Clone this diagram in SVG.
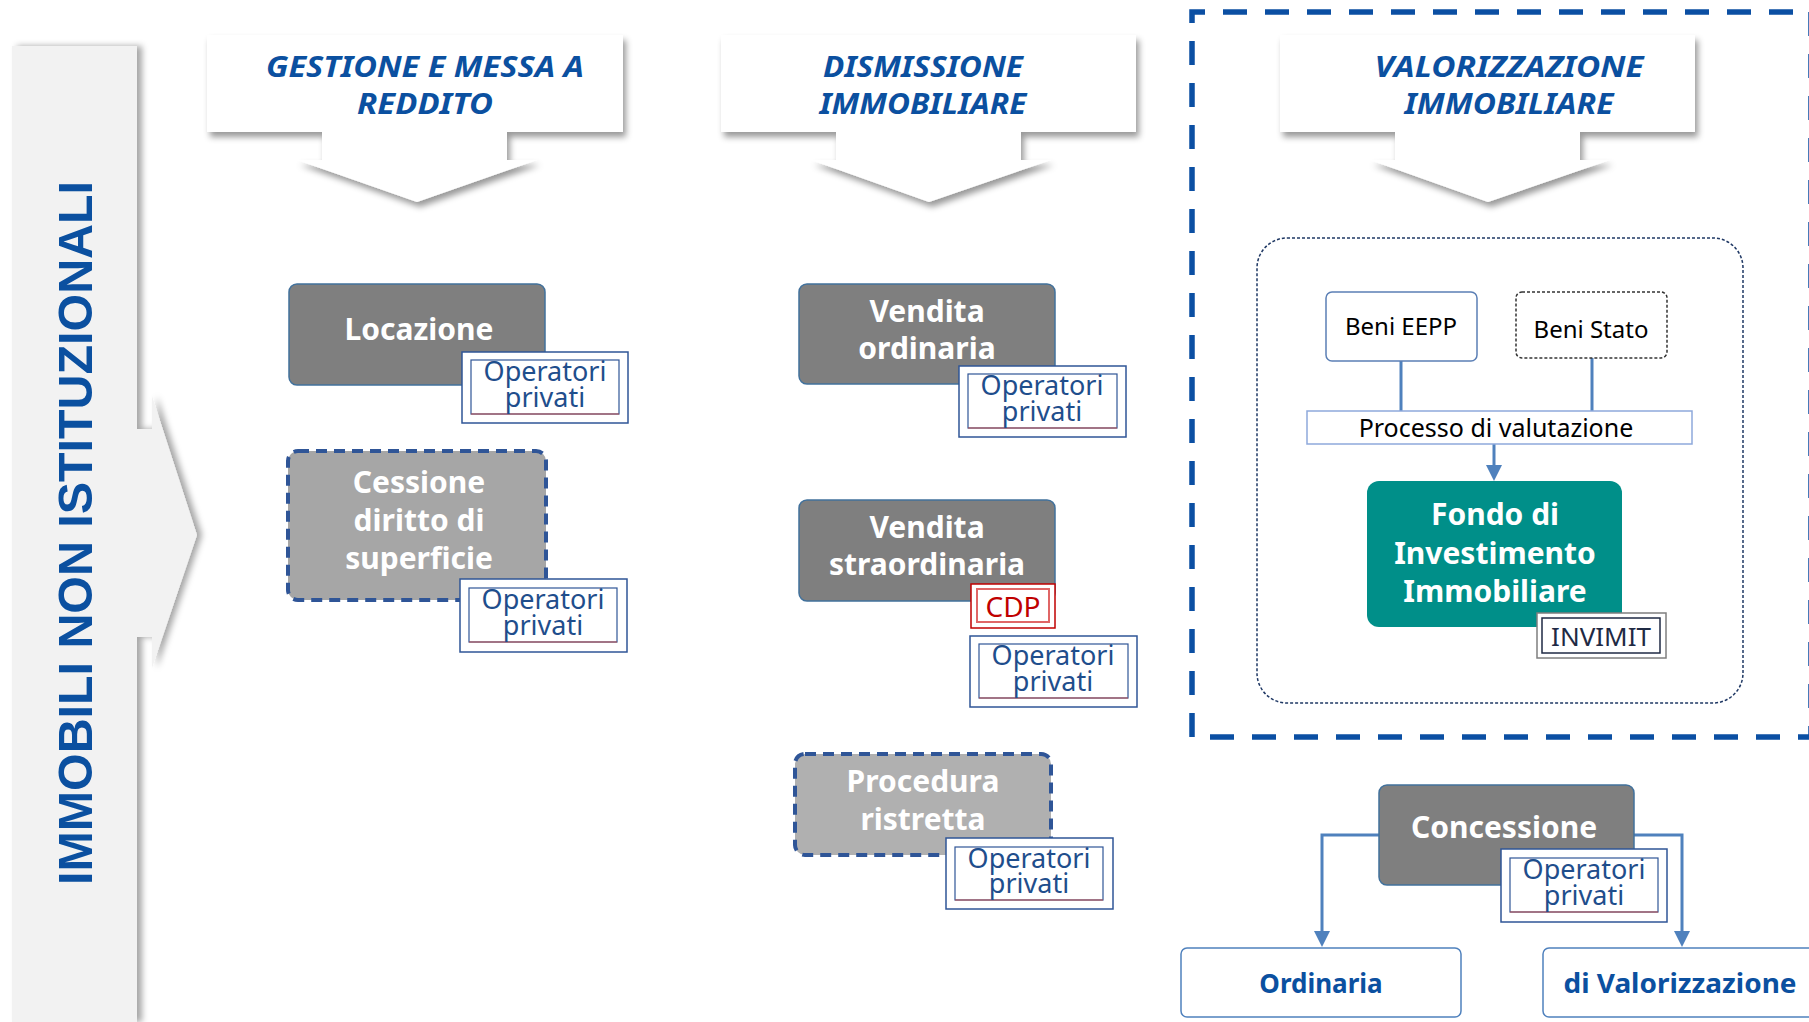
<svg xmlns="http://www.w3.org/2000/svg" width="1809" height="1022" viewBox="0 0 1809 1022">
<style>
text{font-family:"Noto Sans","Open Sans","Liberation Sans",sans-serif;}
.hdr{fill:#0B50A0;font-size:29px;font-weight:bold;font-style:italic;text-anchor:middle;}
.callout{fill:#FFFFFF;filter:url(#shd);}
.nodeDark{fill:#7F7F7F;stroke:#41719C;stroke-width:1.5;}
.nodeDash{stroke:#2F5597;stroke-width:4;stroke-dasharray:11 7;}
.wt{fill:#FFFFFF;font-size:30px;font-weight:bold;text-anchor:middle;}
.opO{fill:#FFFFFF;stroke:#2F5597;stroke-width:1.5;}
.opI{fill:#FFFFFF;stroke:#2F5597;stroke-width:1.2;}
.opR{stroke:#C0504D;stroke-width:1.2;}
.opT{fill:#1F4E8C;font-size:27px;text-anchor:middle;}
.con{fill:none;stroke:#4F81BD;stroke-width:3;}
.bt{fill:#0B50A0;font-size:26px;font-weight:bold;text-anchor:middle;}
</style>
<defs>
<filter id="shd" x="-10%" y="-10%" width="130%" height="140%">
<feDropShadow dx="3" dy="5" stdDeviation="3" flood-color="#000000" flood-opacity="0.4"/>
</filter>
<filter id="shdR" x="-10%" y="-5%" width="130%" height="110%">
<feDropShadow dx="5" dy="0" stdDeviation="3" flood-color="#000000" flood-opacity="0.35"/>
</filter>
<marker id="arr" viewBox="0 0 16 16" refX="12" refY="8" markerWidth="16" markerHeight="16" markerUnits="userSpaceOnUse" orient="auto">
<path d="M0,0 L16,8 L0,16 Z" fill="#4F81BD"/>
</marker>
</defs>
<rect width="1809" height="1022" fill="#FFFFFF"/>

<g id="immobili-non-istituzionali">
<path d="M12,46 H137 V429 H152 V396 L197,535 L152,668 V637 H137 V1022 H12 Z" fill="#F2F2F2" filter="url(#shdR)"/>
<text transform="translate(92,533) rotate(-90)" text-anchor="middle" font-size="48" font-weight="bold" fill="#0B50A0" style="font-family:'Liberation Sans',Arial,sans-serif" textLength="704" lengthAdjust="spacingAndGlyphs">IMMOBILI NON ISTITUZIONALI</text>
</g>

<g id="valorizzazione-border">
<path d="M1192,737 V12 H1811 V737 Z" fill="none" stroke="#0B4FA3" stroke-width="5.5" stroke-dasharray="24 18"/>
</g>

<g id="header-gestione">
<path class="callout" d="M207,35 H623 V132 H507 V160 H537 L417,202 L297,160 H322 V132 H207 Z"/>
<text class="hdr" x="425" y="77" textLength="318" lengthAdjust="spacingAndGlyphs">GESTIONE E MESSA A</text>
<text class="hdr" x="425" y="114" textLength="136" lengthAdjust="spacingAndGlyphs">REDDITO</text>
</g>
<g id="header-dismissione">
<path class="callout" d="M721,35 H1136 V132 H1021 V160 H1051 L929,202 L811,160 H836 V132 H721 Z"/>
<text class="hdr" x="923" y="77" textLength="200" lengthAdjust="spacingAndGlyphs">DISMISSIONE</text>
<text class="hdr" x="923" y="114" textLength="207" lengthAdjust="spacingAndGlyphs">IMMOBILIARE</text>
</g>
<g id="header-valorizzazione">
<path class="callout" d="M1280,35 H1695 V132 H1580 V160 H1610 L1488,202 L1370,160 H1395 V132 H1280 Z"/>
<text class="hdr" x="1509" y="77" textLength="269" lengthAdjust="spacingAndGlyphs">VALORIZZAZIONE</text>
<text class="hdr" x="1509" y="114" textLength="209" lengthAdjust="spacingAndGlyphs">IMMOBILIARE</text>
</g>

<g id="fondo-area">
<rect x="1257" y="238" width="486" height="465" rx="30" fill="none" stroke="#1F3864" stroke-width="1.5" stroke-dasharray="3 2"/>
</g>

<g id="connectors">
<path class="con" d="M1401,361 V411"/>
<path class="con" d="M1592,358 V411"/>
<path class="con" d="M1494,444 V477" marker-end="url(#arr)"/>
<path class="con" stroke-width="2.5" d="M1379,835 H1322 V943" marker-end="url(#arr)"/>
<path class="con" stroke-width="2.5" d="M1634,835 H1682 V943" marker-end="url(#arr)"/>
</g>

<g id="locazione">
<rect class="nodeDark" x="289" y="284" width="256" height="101" rx="8"/>
<text class="wt" x="419" y="340">Locazione</text>
<rect class="opO" x="462" y="352" width="166" height="71"/>
<rect class="opI" x="471" y="360" width="148" height="54"/>
<line class="opR" x1="471" y1="414" x2="619" y2="414"/>
<text class="opT" x="545" y="381">Operatori</text>
<text class="opT" x="545" y="407">privati</text>
</g>

<g id="cessione">
<rect class="nodeDash" x="288" y="451" width="258" height="149" rx="10" fill="#A6A6A6"/>
<text class="wt" x="419" y="493">Cessione</text>
<text class="wt" x="419" y="531">diritto di</text>
<text class="wt" x="419" y="569">superficie</text>
<rect class="opO" x="460" y="579" width="167" height="73"/>
<rect class="opI" x="469" y="588" width="148" height="54"/>
<line class="opR" x1="469" y1="642" x2="617" y2="642"/>
<text class="opT" x="543" y="609">Operatori</text>
<text class="opT" x="543" y="635">privati</text>
</g>

<g id="vendita-ordinaria">
<rect class="nodeDark" x="799" y="284" width="256" height="100" rx="8"/>
<text class="wt" x="927" y="322">Vendita</text>
<text class="wt" x="927" y="359">ordinaria</text>
<rect class="opO" x="959" y="366" width="167" height="71"/>
<rect class="opI" x="968" y="374" width="149" height="54"/>
<line class="opR" x1="968" y1="428" x2="1117" y2="428"/>
<text class="opT" x="1042" y="395">Operatori</text>
<text class="opT" x="1042" y="421">privati</text>
</g>

<g id="vendita-straordinaria">
<rect class="nodeDark" x="799" y="500" width="256" height="101" rx="8"/>
<text class="wt" x="927" y="538">Vendita</text>
<text class="wt" x="927" y="575">straordinaria</text>
<rect x="971" y="584" width="84" height="44" fill="#FFFFFF" stroke="#C00000" stroke-width="1.5"/>
<rect x="977" y="589" width="72" height="33" fill="#FFFFFF" stroke="#E06666" stroke-width="2"/>
<text x="1013" y="617" fill="#C00000" font-size="28" text-anchor="middle">CDP</text>
<rect class="opO" x="970" y="636" width="167" height="71"/>
<rect class="opI" x="979" y="644" width="149" height="54"/>
<line class="opR" x1="979" y1="698" x2="1128" y2="698"/>
<text class="opT" x="1053" y="665">Operatori</text>
<text class="opT" x="1053" y="691">privati</text>
</g>

<g id="procedura-ristretta">
<rect class="nodeDash" x="795" y="754" width="256" height="101" rx="10" fill="#B0B0B0"/>
<text class="wt" x="923" y="792">Procedura</text>
<text class="wt" x="923" y="830">ristretta</text>
<rect class="opO" x="946" y="838" width="167" height="71"/>
<rect class="opI" x="955" y="847" width="148" height="53"/>
<line class="opR" x1="955" y1="900" x2="1103" y2="900"/>
<text class="opT" x="1029" y="868">Operatori</text>
<text class="opT" x="1029" y="893">privati</text>
</g>

<g id="beni-eepp">
<rect x="1326" y="292" width="151" height="69" rx="6" fill="#FFFFFF" stroke="#5B7FB5" stroke-width="1.5"/>
<text x="1401" y="335" font-size="24" text-anchor="middle" fill="#000000">Beni EEPP</text>
</g>

<g id="beni-stato">
<rect x="1516" y="292" width="151" height="66" rx="6" fill="#FFFFFF" stroke="#333333" stroke-width="1.5" stroke-dasharray="3 2"/>
<text x="1591" y="338" font-size="24" text-anchor="middle" fill="#000000">Beni Stato</text>
</g>

<g id="processo-valutazione">
<rect x="1307" y="411" width="385" height="33" fill="#FFFFFF" stroke="#8EA9DB" stroke-width="1.5"/>
<text x="1496" y="437" font-size="25" text-anchor="middle" fill="#000000">Processo di valutazione</text>
</g>

<g id="fondo-investimento">
<rect x="1367" y="481" width="255" height="146" rx="12" fill="#008F89"/>
<text class="wt" x="1495" y="525" font-size="29">Fondo di</text>
<text class="wt" x="1495" y="564" font-size="29">Investimento</text>
<text class="wt" x="1495" y="602" font-size="29">Immobiliare</text>
<rect x="1537" y="613" width="129" height="45" fill="#FFFFFF" stroke="#7F7F7F" stroke-width="1.5"/>
<rect x="1542" y="618" width="118" height="35" fill="#FFFFFF" stroke="#1F2A44" stroke-width="1.5"/>
<text x="1601" y="646" font-size="26" text-anchor="middle" fill="#1F2A44">INVIMIT</text>
</g>

<g id="concessione">
<rect class="nodeDark" x="1379" y="785" width="255" height="100" rx="8"/>
<text class="wt" x="1504" y="838">Concessione</text>
<rect class="opO" x="1501" y="849" width="166" height="73"/>
<rect class="opI" x="1510" y="858" width="148" height="54"/>
<line class="opR" x1="1510" y1="912" x2="1658" y2="912"/>
<text class="opT" x="1584" y="879">Operatori</text>
<text class="opT" x="1584" y="905">privati</text>
</g>

<g id="ordinaria">
<rect x="1181" y="948" width="280" height="69" rx="6" fill="#FFFFFF" stroke="#4F81BD" stroke-width="1.5"/>
<text class="bt" x="1321" y="993">Ordinaria</text>
</g>

<g id="di-valorizzazione">
<rect x="1543" y="948" width="280" height="69" rx="6" fill="#FFFFFF" stroke="#4F81BD" stroke-width="1.5"/>
<text class="bt" x="1680" y="993" textLength="233" lengthAdjust="spacingAndGlyphs">di Valorizzazione</text>
</g>
</svg>
